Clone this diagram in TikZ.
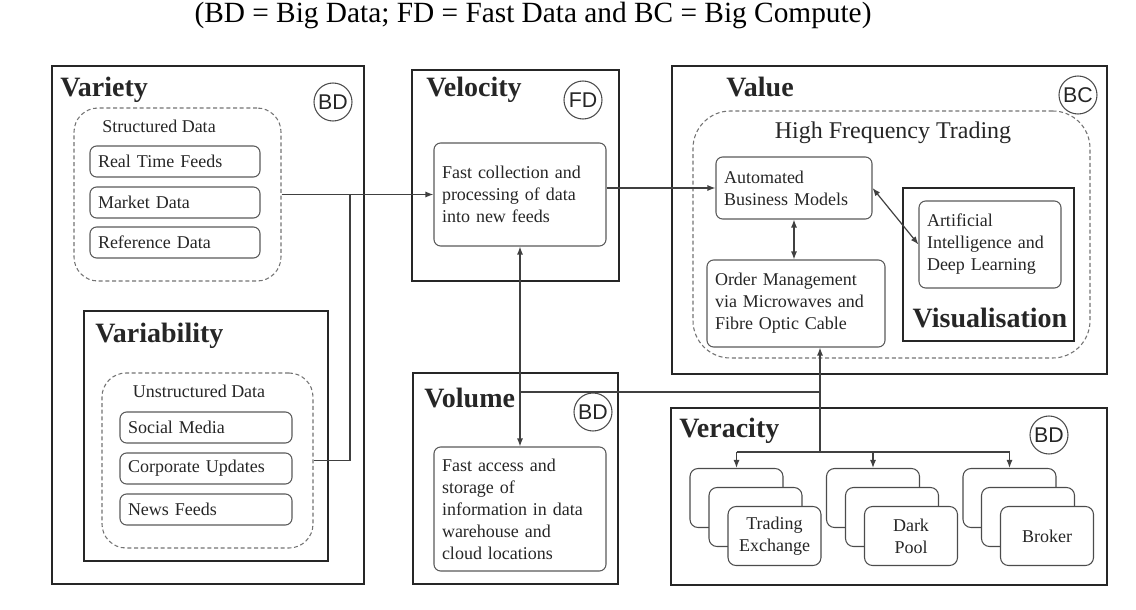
\documentclass[tikz,border=0pt]{standalone}
\usepackage{fontspec}
\setmainfont{Liberation Serif}
\newfontfamily\tagfont{Liberation Sans}
\usetikzlibrary{arrows.meta}
\newcommand{\itemfont}{\fontsize{13.5}{16.5}\selectfont}
\tikzset{
  outerbox/.style={draw=black!85, line width=1.5pt, inner sep=0pt},
  groupbox/.style={draw=black!55, dash pattern=on 3pt off 2pt, line width=0.8pt, inner sep=0pt},
  itembox/.style={draw=black!65, line width=0.8pt, rounded corners=5pt, align=left,
    inner xsep=6pt, font=\itemfont, text=black!85},
  card/.style={draw=black!70, line width=0.8pt, rounded corners=6pt, fill=white,
    minimum width=69.75pt, minimum height=44.25pt, align=center, font=\itemfont, text=black!85},
  heading/.style={anchor=west, inner sep=0pt, font=\fontsize{21}{24}\selectfont\bfseries, text=black!85},
  tag/.style={circle, draw=black!70, line width=0.8pt, minimum size=28.5pt, inner sep=0pt,
    font=\tagfont\fontsize{16}{16}\selectfont, text=black!85},
  link/.style={draw=black!75, line width=0.9pt},
  >={Latex[length=6pt,width=4.5pt]}
}
\begin{document}
\begin{tikzpicture}[x=0.75pt,y=-0.75pt]
  \useasboundingbox (0,0) rectangle (1136,610);
  \node (caption) at (533,15) {\fontsize{22}{26}\selectfont (BD = Big Data; FD = Fast Data and BC = Big Compute)};

  % Variety
  \node[outerbox, minimum width=234pt, minimum height=388.5pt] (variety) at (208,325) {};
  \node[heading] (varietyhd) at (60,90) {Variety};
  \node[tag] (varietytag) at (333,102) {BD};
  \node[groupbox, rounded corners=18pt, minimum width=155.25pt, minimum height=129.75pt] (structured) at (177.5,194.5) {};
  \node[font=\itemfont, text=black!85] (structuredhd) at (159,126) {Structured Data};
  \node[itembox, minimum width=127.5pt, minimum height=23.25pt, text width=115.5pt] (realtime) at (175,161.5) {Real Time Feeds};
  \node[itembox, minimum width=127.5pt, minimum height=23.25pt, text width=115.5pt] (market) at (175,202.5) {Market Data};
  \node[itembox, minimum width=127.5pt, minimum height=23.25pt, text width=115.5pt] (reference) at (175,242.5) {Reference Data};

  % Variability
  \node[outerbox, minimum width=183pt, minimum height=187.5pt] (variability) at (206,436) {};
  \node[heading] (variabilityhd) at (95,336) {Variability};
  \node[groupbox, rounded corners=18pt, minimum width=158.25pt, minimum height=131.25pt] (unstructured) at (207.5,460.5) {};
  \node[font=\itemfont, text=black!85] (unstructuredhd) at (199,391) {Unstructured Data};
  \node[itembox, minimum width=129pt, minimum height=23.25pt, text width=117pt] (social) at (206,427.5) {Social Media};
  \node[itembox, minimum width=129pt, minimum height=23.25pt, text width=117pt] (corporate) at (206,468.5) {Corporate Updates};
  \node[itembox, minimum width=129pt, minimum height=23.25pt, text width=117pt] (news) at (206,509.5) {News Feeds};

  % Velocity
  \node[outerbox, minimum width=155.25pt, minimum height=158.25pt] (velocity) at (515.5,175.5) {};
  \node[heading] (velocityhd) at (426,90) {Velocity};
  \node[tag] (velocitytag) at (583,100) {FD};
  \node[itembox, minimum width=129pt, minimum height=77.25pt, text width=117pt] (fastcoll) at (520,194.5)
    {Fast collection and\\processing of data\\into new feeds\\[9pt]};

  % Volume
  \node[outerbox, minimum width=153.75pt, minimum height=158.25pt] (volume) at (515.5,478.5) {};
  \node[heading] (volumehd) at (424,398) {Volume};
  \node[tag] (volumetag) at (593,412) {BD};
  \node[itembox, minimum width=129pt, minimum height=93pt, text width=117pt] (fastacc) at (520,509)
    {Fast access and\\storage of\\information in data\\warehouse and\\cloud locations};

  % Value
  \node[outerbox, minimum width=326.25pt, minimum height=231pt] (value) at (889.5,220) {};
  \node[heading] (valuehd) at (726,87) {Value};
  \node[tag] (valuetag) at (1078,95) {BC};
  \node[groupbox, rounded corners=28pt, minimum width=297.75pt, minimum height=185.25pt] (hft) at (891.5,234.5) {};
  \node[font=\fontsize{18}{21}\selectfont, text=black!85] (hfthd) at (893,133) {High Frequency Trading};
  \node[itembox, minimum width=117pt, minimum height=46.5pt, text width=105pt] (automated) at (794,188)
    {Automated\\Business Models};
  \node[itembox, minimum width=133.5pt, minimum height=65.25pt, text width=121.5pt] (order) at (796,303.5)
    {Order Management\\via Microwaves and\\Fibre Optic Cable};
  \node[outerbox, minimum width=128.25pt, minimum height=114.75pt] (visual) at (988.5,264.5) {};
  \node[font=\fontsize{21}{24}\selectfont\bfseries, text=black!85] (visualhd) at (990,318) {Visualisation};
  \node[itembox, minimum width=106.5pt, minimum height=65.25pt, text width=94.5pt] (ai) at (990,244.5)
    {Artificial\\Intelligence and\\Deep Learning};

  % Veracity
  \node[outerbox, minimum width=327pt, minimum height=132.75pt] (veracity) at (889,496.5) {};
  \node[heading] (veracityhd) at (679,431) {Veracity};
  \node[tag] (veracitytag) at (1049,435) {BD};
  \node[card] (te1) at (736.5,498) {};
  \node[card] (te2) at (755.5,517) {};
  \node[card] (te3) at (774.5,536) {Trading\\Exchange};
  \node[card] (dp1) at (873,498) {};
  \node[card] (dp2) at (892,517) {};
  \node[card] (dp3) at (911,536) {Dark\\Pool};
  \node[card] (br1) at (1009.5,498) {};
  \node[card] (br2) at (1028,517) {};
  \node[card] (br3) at (1047,536) {Broker};

  % connectors
  \draw[link,->] (structured.east) -- (fastcoll.west);
  \coordinate (merge) at (350,194.5);
  \draw[link] (unstructured.east) -| (merge);
  \draw[link,->] (fastcoll.east |- automated.west) -- (automated.west);
  \draw[link,<->] (automated.south) -- (automated.south |- order.north);
  \draw[link,<->] (automated.east) -- (ai.west);
  \draw[link,<->] (fastcoll.south) -- (fastacc.north);
  \coordinate (tap) at (520,392);
  \coordinate (hub) at (820,452);
  \draw[link] (tap) -- (tap -| hub);
  \draw[link,->] (hub) -- (hub |- order.south);
  \draw[link] (te1.north |- hub) -- (br1.north |- hub);
  \foreach \c in {te1,dp1,br1}
    \draw[link,->] (\c.north |- hub) -- (\c.north);
\end{tikzpicture}
\end{document}
